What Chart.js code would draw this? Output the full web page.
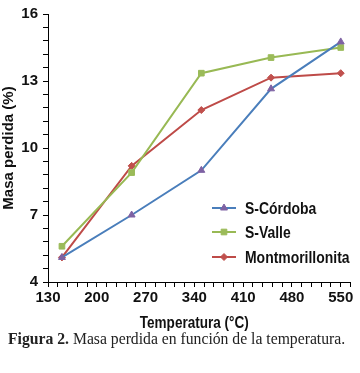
<!DOCTYPE html>
<html>
<head>
<meta charset="utf-8">
<script src="https://cdn.jsdelivr.net/npm/chart.js@4/dist/chart.umd.min.js"></script>
<style>
  body { margin: 0; background: #fff; width: 360px; height: 373px; overflow: hidden; }
  #wrap { position: relative; width: 360px; height: 334px; }
  #pie { font-family: "Liberation Serif", "DejaVu Serif", serif; font-size: 15.7px; color: #222;
         position: absolute; top: 330px; left: 8px; white-space: nowrap; }
</style>
</head>
<body>
<div id="wrap"><canvas id="grafica"></canvas></div>
<div id="pie"><b>Figura 2.</b> Masa perdida en función de la temperatura.</div>
<script>
const temperaturas = [150, 250, 350, 450, 550];
const s_cordoba = [5.1, 7.0, 9.0, 12.65, 14.75];
const s_valle = [5.6, 8.9, 13.35, 14.05, 14.5];
const montmorillonita = [5.1, 9.2, 11.7, 13.15, 13.35];
const titulo_x = "Temperatura (°C)";
const titulo_y = "Masa perdida (%)";

const series = [
  { label: "S-Córdoba", datos: s_cordoba, linea: "#4A7EBB", marca: "#7E62A3", forma: "triangle", radio: 4 },
  { label: "S-Valle", datos: s_valle, linea: "#98B954", marca: "#9BBB59", forma: "rect", radio: 4 },
  { label: "Montmorillonita", datos: montmorillonita, linea: "#BE4B48", marca: "#C0504D", forma: "rectRot", radio: 3.5 },
];

const fuente = "'Liberation Sans', Arial, sans-serif";

// texto estrecho (la fuente original es mas angosta que Arial)
function texto_estrecho(ctx, texto, x, y, tam, align) {
  ctx.save();
  ctx.font = "bold " + tam + "px " + fuente;
  ctx.fillStyle = "#111";
  ctx.textBaseline = "middle";
  ctx.textAlign = align;
  ctx.translate(x, y);
  ctx.scale(0.82, 1);
  ctx.fillText(texto, 0, 0);
  ctx.restore();
}

// leyenda dentro del area de la grafica + titulo del eje x
const plugin_leyenda = {
  id: "leyendaInterna",
  afterDraw: (chart) => {
    const ctx = chart.ctx;
    const filas = [208, 232, 257];
    ctx.save();
    chart.data.datasets.forEach((ds, i) => {
      const y = filas[i];
      ctx.strokeStyle = ds.borderColor;
      ctx.lineWidth = 2;
      ctx.beginPath();
      ctx.moveTo(212, y);
      ctx.lineTo(236, y);
      ctx.stroke();
      ctx.fillStyle = ds.pointBackgroundColor;
      ctx.strokeStyle = ds.pointBorderColor;
      ctx.lineWidth = 1;
      if (Chart.helpers && Chart.helpers.drawPoint) {
        Chart.helpers.drawPoint(ctx, { pointStyle: ds.pointStyle, radius: ds.pointRadius, borderWidth: 1, rotation: 0 }, 224, y);
      }
      texto_estrecho(ctx, ds.label, 245, y + 1, 17, "left");
    });
    ctx.restore();
    const area = chart.chartArea;
    texto_estrecho(ctx, titulo_x, (area.left + area.right) / 2 - 5, 323, 16.5, "center");
  },
};

const ctx = document.getElementById("grafica").getContext("2d");
new Chart(ctx, {
  type: "line",
  data: {
    datasets: series.map((s) => ({
      label: s.label,
      data: temperaturas.map((t, i) => ({ x: t, y: s.datos[i] })),
      borderColor: s.linea,
      borderWidth: 2,
      pointStyle: s.forma,
      pointRadius: s.radio,
      pointBackgroundColor: s.marca,
      pointBorderColor: s.marca,
      pointBorderWidth: 1,
      tension: 0,
      fill: false,
    })),
  },
  options: {
    responsive: true,
    maintainAspectRatio: false,
    animation: false,
    layout: { padding: { top: 14, right: 9.5, left: 0, bottom: 0 } },
    plugins: {
      legend: { display: false },
      tooltip: { enabled: false },
    },
    scales: {
      x: {
        type: "linear",
        min: 130,
        max: 564,
        afterFit: (scale) => { scale.height = 52; },
        border: { display: true, color: "#000", width: 1 },
        grid: { display: true, drawOnChartArea: false, color: "#000", tickLength: 5, tickWidth: 1 },
        ticks: {
          stepSize: 14,
          autoSkip: false,
          maxRotation: 0,
          padding: 2,
          color: "#111",
          font: { family: fuente, size: 15, weight: "bold" },
          callback: function (v) {
            return (v - 130) % 70 === 0 ? v : "";
          },
        },
        title: { display: false },
      },
      y: {
        min: 4,
        max: 16,
        afterFit: (scale) => { scale.width = 48; },
        border: { display: true, color: "#000", width: 1 },
        grid: { display: true, drawOnChartArea: false, color: "#000", tickLength: 5, tickWidth: 1 },
        ticks: {
          stepSize: 0.6,
          autoSkip: false,
          padding: 5,
          color: "#111",
          font: { family: fuente, size: 15, weight: "bold" },
          callback: function (v) {
            const r = Math.round(v);
            return Math.abs(v - r) < 0.01 && (r - 4) % 3 === 0 ? r : "";
          },
        },
        title: {
          display: true,
          text: titulo_y,
          color: "#111",
          padding: { top: 0, bottom: 0 },
          font: { family: fuente, size: 15, weight: "bold" },
        },
      },
    },
  },
  plugins: [plugin_leyenda],
});
</script>
</body>
</html>
